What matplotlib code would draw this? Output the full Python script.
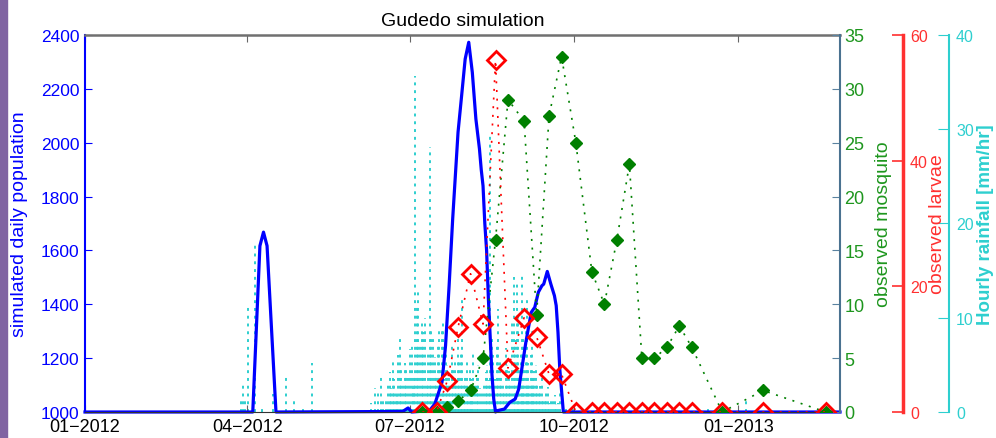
import matplotlib
matplotlib.use('Agg')
import matplotlib.pyplot as plt
import matplotlib.dates as mdates
from matplotlib.patches import Rectangle
import pandas as pd

plt.rcParams['font.family'] = ['Liberation Sans', 'DejaVu Sans']

# simulated daily population (left axis)
sim_dates = ['2012-01-01', '2012-04-04', '2012-04-08', '2012-04-10', '2012-04-12', '2012-04-17',
             '2012-06-27', '2012-06-30', '2012-07-02', '2012-07-12', '2012-07-15', '2012-07-19',
             '2012-07-21', '2012-07-23', '2012-07-25', '2012-07-28', '2012-07-30', '2012-08-01',
             '2012-08-03', '2012-08-05', '2012-08-07', '2012-08-09', '2012-08-10', '2012-08-11',
             '2012-08-12', '2012-08-13', '2012-08-14', '2012-08-15', '2012-08-16', '2012-08-17',
             '2012-08-18', '2012-08-19', '2012-08-23', '2012-08-26', '2012-08-29', '2012-08-31',
             '2012-09-02', '2012-09-04', '2012-09-07', '2012-09-09', '2012-09-11', '2012-09-13',
             '2012-09-14', '2012-09-16', '2012-09-18', '2012-09-20', '2012-09-21', '2012-09-22',
             '2012-09-23', '2012-09-25', '2013-02-27']
sim_pop = [1000, 1000, 1617, 1668, 1617, 1000,
           1002, 1015, 1000, 1005, 1030, 1110,
           1246, 1469, 1717, 2039, 2174, 2311,
           2373, 2261, 2088, 1977, 1900, 1840,
           1700, 1600, 1420, 1280, 1140, 1048,
           1000, 1005, 1011, 1036, 1048, 1085,
           1172, 1259, 1370, 1389, 1445, 1469,
           1475, 1522, 1475, 1432, 1395, 1296,
           1160, 1000, 1000]

# weekly field observations
obs_dates = ['2012-07-08', '2012-07-16', '2012-07-22', '2012-07-28', '2012-08-04', '2012-08-11',
             '2012-08-18', '2012-08-25', '2012-09-03', '2012-09-10', '2012-09-17', '2012-09-24',
             '2012-10-02', '2012-10-11', '2012-10-18', '2012-10-25', '2012-11-01', '2012-11-08',
             '2012-11-15', '2012-11-22', '2012-11-29', '2012-12-06', '2012-12-23', '2013-01-15',
             '2013-02-19']
mosquito = [0, 0, 0.5, 1, 2, 5, 16, 29, 27, 9, 27.5, 33, 25, 13, 10, 16, 23, 5, 5, 6, 8, 6, 0, 2, 0]
larvae = [0, 0, 5, 13.5, 22, 14, 56, 7, 15, 12, 6, 6, 0, 0, 0, 0, 0, 0, 0, 0, 0, 0, 0, 0, 0]

# hourly rainfall, time in days since 01-Jan-2012
rain_day = [87.3, 88.5, 89.6, 91.5, 95.3, 99.0, 105.5, 112.7, 117.2, 122.0, 127.0,
            160.5, 162.3, 164.2, 165.6, 167.0, 168.4, 169.8, 170.7, 171.5, 172.4, 173.2,
            174.0, 174.9, 175.6, 176.3, 177.2, 178.3, 179.1, 179.9, 181.0, 182.2, 183.0,
            183.9, 184.5, 185.0, 185.8, 186.7, 187.6, 188.6, 189.6, 190.6, 191.7, 192.3,
            193.1, 194.1, 195.1, 195.9, 196.7, 197.5, 198.2, 199.0, 199.8, 200.5, 201.2,
            202.0, 202.9, 203.7, 204.6, 205.4, 206.3, 207.1, 208.0, 208.8, 209.6, 210.4,
            211.3, 212.1, 213.0, 213.8, 214.7, 215.5, 216.4, 217.0, 217.5, 218.5, 219.5,
            220.4, 221.4, 222.5, 223.7, 224.5, 225.3, 226.1, 227.0, 227.8, 228.7, 229.8,
            230.6, 231.5, 232.3, 233.2, 234.0, 234.9, 235.7, 236.5, 237.3, 238.2, 239.2,
            240.2, 241.0, 241.9, 242.6, 243.3, 244.1, 244.9, 245.5, 246.1, 247.0, 247.8,
            248.4, 248.9, 249.8, 250.6, 251.1, 251.7, 252.5, 253.4, 254.2, 255.0, 255.8,
            256.7, 257.5, 258.4, 259.3, 260.1, 261.2, 262.3, 263.1, 264.0, 265.1, 266.3,
            269.6, 273.5, 349.2, 370.5]
rain_mm = [1.4, 3.2, 1.4, 11.1, 18.0, 0.3, 1.9, 3.9, 1.4, 0.3, 5.2,
           1.0, 2.5, 2.0, 3.8, 1.5, 1.2, 3.2, 4.2, 2.5, 5.5, 3.5,
           2.2, 1.8, 6.0, 7.7, 4.8, 3.0, 5.2, 4.5, 3.6, 6.7, 7.0,
           2.5, 4.0, 35.7, 11.5, 13.2, 7.2, 9.9, 8.5, 10.0, 3.0, 6.3,
           28.1, 9.0, 8.1, 5.8, 4.0, 7.4, 8.8, 4.6, 8.6, 9.8, 3.5,
           6.2, 5.0, 3.8, 2.5, 7.0, 4.5, 5.6, 3.0, 8.0, 5.5, 6.6,
           12.3, 3.0, 4.0, 5.4, 2.0, 4.6, 3.5, 2.4, 6.5, 3.2, 4.0,
           5.0, 2.5, 2.0, 3.0, 4.2, 5.0, 3.4, 29.7, 8.2, 6.0, 3.5,
           7.0, 10.9, 5.6, 4.0, 3.0, 2.0, 6.8, 5.0, 4.4, 3.0, 9.5,
           14.3, 7.6, 13.6, 10.2, 4.5, 6.4, 14.8, 7.8, 5.0, 9.0, 12.0,
           5.2, 3.0, 6.0, 8.8, 3.6, 4.4, 5.0, 3.0, 2.4, 2.8, 3.8,
           1.5, 1.6, 2.0, 2.6, 1.0, 1.2, 1.5, 1.8, 0.8, 1.0, 2.4,
           0.5, 0.5, 0.5, 1.2]

BLUE = '#0000FF'
GREEN = '#008000'
GREEN_TXT = '#1E961E'
RED = '#FF0000'
CYAN = '#2ECFCF'

t_sim = pd.to_datetime(sim_dates)
t_obs = pd.to_datetime(obs_dates)
t_rain = pd.Timestamp('2012-01-01') + pd.to_timedelta(rain_day, unit='D')

fig = plt.figure(figsize=(9.96, 4.39), dpi=100)
fig.add_artist(Rectangle((0, 0), 7 / 996, 1, transform=fig.transFigure, color='#8064a2'))

ax = fig.add_axes([85 / 996, 26 / 439, 755 / 996, 377 / 439])
axc = ax.twinx()
axg = ax.twinx()
axr = ax.twinx()

# draw order: rain behind, then population, mosquito, larvae
axc.set_zorder(0)
ax.set_zorder(1)
axg.set_zorder(2)
axr.set_zorder(3)
ax.patch.set_visible(False)

axc.vlines(t_rain, 0, rain_mm, colors=CYAN, linestyles=[(0, (1.5, 2.5))], linewidth=1.4)
ax.plot(t_sim, sim_pop, color=BLUE, lw=2.3, clip_on=False)
axg.plot(t_obs, mosquito, color=GREEN, ls=(0, (1.2, 4)), lw=1.2,
         marker='D', ms=6.5, mfc=GREEN, mec=GREEN)
axr.plot(t_obs, larvae, color=RED, ls=(0, (1.2, 4)), lw=1.2,
         marker='D', ms=9, mfc='none', mec=RED, mew=2)

ax.set_xlim(pd.Timestamp('2012-01-01'), pd.Timestamp('2013-02-27'))
ax.set_xticks(pd.to_datetime(['2012-01-01', '2012-04-01', '2012-07-01', '2012-10-01', '2013-01-01']))
ax.xaxis.set_major_formatter(mdates.DateFormatter('%m\u2212%Y'))
ax.tick_params(axis='x', direction='in', top=True, length=5, colors='#666666',
               labelcolor='black', labelsize=13, pad=4)

ax.set_ylim(1000, 2400)
ax.set_yticks(range(1000, 2401, 200))
ax.tick_params(axis='y', direction='in', length=5, colors=BLUE, labelsize=12.5, pad=4)
ax.set_ylabel('simulated daily population', color=BLUE, fontsize=14)
ax.yaxis.set_label_coords(-0.0755, 0.5)

axg.set_ylim(0, 35)
axg.set_yticks(range(0, 36, 5))
axg.tick_params(axis='y', direction='in', length=6, colors='#5a82a0', labelcolor=GREEN_TXT,
                labelsize=13, pad=3)
axg.set_ylabel('observed mosquito', color=GREEN_TXT, fontsize=14)
axg.yaxis.set_label_coords(1.046, 0.5)

axr.set_ylim(0, 60)
axr.set_yticks(range(0, 61, 20))
axr.spines['right'].set_position(('axes', 1.0834))
axr.tick_params(axis='y', direction='in', length=8, width=1.2, colors='#FF3030', labelsize=11.5, pad=5)
axr.set_ylabel('observed larvae', color='#FF3030', fontsize=14)
axr.yaxis.set_label_coords(1.118, 0.5)

axc.set_ylim(0, 40)
axc.set_yticks(range(0, 41, 10), labels=[str(v) for v in range(0, 41, 10)], fontweight='bold')
axc.spines['right'].set_position(('axes', 1.1444))
axc.tick_params(axis='y', direction='in', length=8, colors=CYAN, labelsize=11.5, pad=5)
axc.set_ylabel('Hourly rainfall [mm/hr]', color=CYAN, fontsize=13.5, fontweight='bold')
axc.yaxis.set_label_coords(1.181, 0.5)

for a in (axc, axg, axr):
    for s in ('top', 'bottom', 'left'):
        a.spines[s].set_visible(False)
ax.spines['right'].set_visible(False)
ax.spines['left'].set_color(BLUE)
ax.spines['left'].set_linewidth(1.5)
ax.spines['top'].set_color('#707070')
ax.spines['top'].set_linewidth(1.8)
ax.spines['bottom'].set_color('#333333')
axg.spines['right'].set_color('#4a7290')
axg.spines['right'].set_linewidth(1.5)
axr.spines['right'].set_color('#FF3030')
axr.spines['right'].set_linewidth(2.5)
axc.spines['right'].set_color(CYAN)
axc.spines['right'].set_linewidth(1.5)

ax.set_title('Gudedo simulation', fontsize=14, pad=7)

fig.savefig('out.png', dpi=100)
